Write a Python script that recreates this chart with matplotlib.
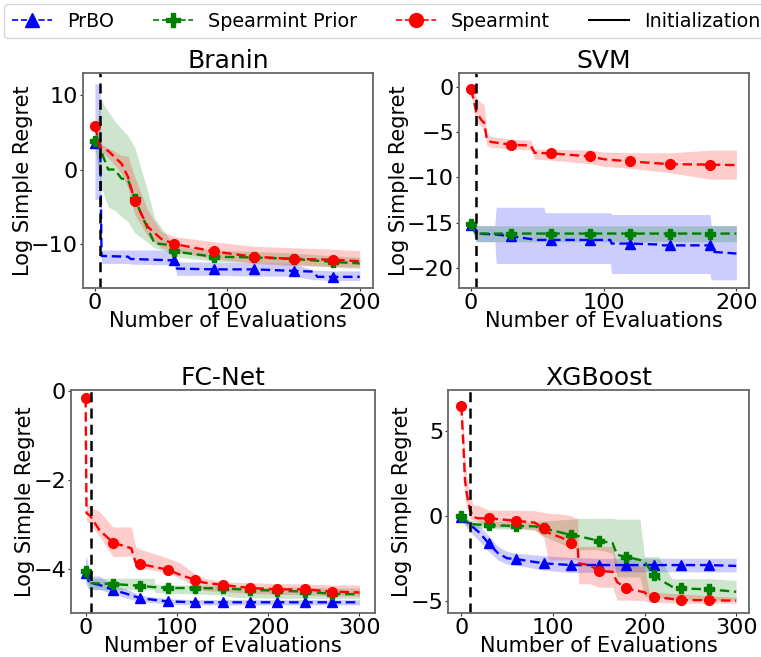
import numpy as np
import matplotlib
matplotlib.use("Agg")
import matplotlib.pyplot as plt
from matplotlib.lines import Line2D

# ---------------- data ----------------
# Branin
branin_init = 4
branin_prbo_x = [0, 4, 5, 25, 27, 60, 62, 90, 120, 150, 165, 168, 180, 200]
branin_prbo_y = [3.6, 3.4, -11.6, -11.7, -12.0, -12.2, -13.3, -13.4, -13.4, -13.6, -13.7, -14.4, -14.4, -14.4]
branin_prbo_hi = [11.5, 11.5, -10.8, -10.8, -10.8, -10.8, -12.4, -12.4, -12.5, -12.6, -13.5, -13.5, -13.6, -13.6]
branin_prbo_lo = [-4.0, -4.0, -12.6, -12.6, -12.7, -12.8, -14.2, -14.2, -14.3, -14.3, -14.8, -14.8, -14.9, -14.9]

branin_prior_x = [0, 4, 10, 15, 20, 25, 30, 40, 45, 55, 60, 90, 120, 150, 180, 200]
branin_prior_y = [3.8, 2.8, 0.0, 0.0, -1.2, -1.4, -3.9, -8.0, -9.9, -10.1, -11.0, -11.7, -11.8, -12.0, -12.4, -12.6]
branin_prior_hi = [4.5, 9.5, 7.8, 6.5, 5.5, 4.5, 3.0, -3.0, -6.5, -9.0, -10.3, -10.8, -11.0, -11.2, -11.6, -11.8]
branin_prior_lo = [3.0, -2.0, -5.0, -5.5, -6.3, -7.0, -8.5, -9.8, -10.5, -11.0, -11.7, -12.3, -12.5, -12.7, -13.1, -13.3]

branin_spear_x = [0, 4, 10, 20, 25, 30, 40, 50, 60, 90, 120, 150, 180, 200]
branin_spear_y = [5.8, 3.0, 2.5, 0.8, -1.0, -4.2, -7.7, -9.3, -10.0, -11.0, -11.7, -12.0, -12.1, -12.3]
branin_spear_hi = [6.3, 3.5, 2.9, 1.9, 1.8, -1.0, -5.5, -8.3, -9.0, -9.7, -10.3, -10.5, -10.7, -10.9]
branin_spear_lo = [5.3, 2.5, 1.6, -0.5, -2.5, -6.0, -9.0, -10.5, -11.0, -12.0, -12.6, -12.9, -13.0, -13.1]

# SVM
svm_init = 4
svm_prbo_x = [0, 4, 18, 19, 30, 35, 50, 55, 56, 60, 90, 105, 106, 120, 140, 145, 150, 180, 181, 200]
svm_prbo_y = [-15.3, -16.2, -16.3, -16.3, -16.5, -16.6, -16.9, -16.9, -16.9, -16.9, -16.9, -16.9, -17.3, -17.3, -17.4, -17.5, -17.5, -17.5, -18.2, -18.4]
svm_prbo_hi = [-15.1, -15.3, -15.3, -13.3, -13.3, -13.3, -13.3, -13.3, -13.9, -13.9, -13.9, -13.9, -14.1, -14.1, -14.1, -14.1, -14.1, -14.1, -15.3, -15.3]
svm_prbo_lo = [-15.5, -17.1, -17.1, -19.5, -19.5, -19.5, -19.5, -19.5, -19.5, -19.5, -19.5, -19.5, -20.6, -20.6, -20.6, -20.6, -20.6, -20.6, -21.3, -21.3]

svm_prior_x = [0, 4, 30, 60, 90, 120, 150, 180, 200]
svm_prior_y = [-15.15, -16.2, -16.2, -16.2, -16.2, -16.2, -16.2, -16.2, -16.2]
svm_prior_hi = [-15.0, -15.35, -15.35, -15.35, -15.35, -15.35, -15.35, -15.35, -15.35]
svm_prior_lo = [-15.3, -17.1, -17.1, -17.1, -17.1, -17.1, -17.1, -17.1, -17.1]

svm_spear_x = [0, 2, 4, 8, 10, 12, 15, 30, 45, 48, 60, 90, 100, 120, 150, 180, 200]
svm_spear_y = [-0.3, -1.5, -2.8, -3.7, -4.0, -5.8, -6.1, -6.4, -6.5, -7.3, -7.35, -7.7, -8.0, -8.25, -8.55, -8.6, -8.65]
svm_spear_hi = [0.0, -0.5, -1.2, -1.8, -2.0, -5.2, -5.5, -5.8, -5.9, -6.9, -6.9, -7.0, -7.2, -7.3, -7.3, -7.0, -7.0]
svm_spear_lo = [-0.6, -2.5, -4.0, -4.4, -5.0, -6.5, -6.7, -6.9, -7.0, -8.0, -8.1, -8.5, -8.8, -9.0, -9.5, -10.2, -10.2]

# FC-Net
fc_init = 6
fc_prbo_x = [0, 2, 4, 15, 30, 45, 60, 90, 120, 150, 180, 210, 240, 270, 300]
fc_prbo_y = [-4.09, -4.2, -4.3, -4.35, -4.46, -4.55, -4.65, -4.72, -4.74, -4.74, -4.74, -4.74, -4.74, -4.74, -4.74]
fc_prbo_hi = [-3.7, -3.8, -4.15, -4.15, -4.35, -4.45, -4.58, -4.66, -4.68, -4.68, -4.68, -4.68, -4.68, -4.68, -4.68]
fc_prbo_lo = [-4.3, -4.4, -4.45, -4.45, -4.55, -4.65, -4.72, -4.78, -4.8, -4.8, -4.8, -4.8, -4.8, -4.8, -4.8]

fc_prior_x = [0, 4, 30, 60, 75, 76, 90, 120, 150, 160, 180, 210, 240, 270, 300]
fc_prior_y = [-4.03, -4.31, -4.33, -4.37, -4.4, -4.4, -4.42, -4.42, -4.43, -4.44, -4.46, -4.48, -4.5, -4.55, -4.56]
fc_prior_hi = [-3.95, -4.2, -4.2, -4.2, -4.2, -4.33, -4.35, -4.35, -4.36, -4.38, -4.39, -4.4, -4.4, -4.42, -4.42]
fc_prior_lo = [-4.1, -4.46, -4.46, -4.46, -4.46, -4.52, -4.54, -4.55, -4.58, -4.62, -4.64, -4.65, -4.65, -4.66, -4.66]

fc_spear_x = [0, 1, 5, 15, 30, 50, 55, 60, 90, 103, 120, 130, 150, 180, 210, 240, 270, 300]
fc_spear_y = [-0.16, -2.74, -2.8, -3.12, -3.4, -3.53, -3.86, -3.88, -4.01, -4.12, -4.24, -4.3, -4.35, -4.42, -4.45, -4.45, -4.5, -4.52]
fc_spear_hi = [-0.1, -2.55, -2.6, -2.7, -3.05, -3.05, -3.5, -3.55, -3.75, -3.85, -4.1, -4.2, -4.28, -4.3, -4.32, -4.33, -4.35, -4.35]
fc_spear_lo = [-0.2, -2.9, -3.0, -3.25, -3.72, -3.7, -3.95, -3.98, -4.07, -4.2, -4.38, -4.48, -4.5, -4.54, -4.56, -4.57, -4.6, -4.6]

# XGBoost
xgb_init = 9
xgb_prbo_x = [0, 9, 20, 30, 40, 50, 60, 90, 120, 150, 180, 210, 240, 270, 300]
xgb_prbo_y = [-0.1, -0.5, -1.0, -1.63, -2.2, -2.5, -2.55, -2.8, -2.9, -2.9, -2.9, -2.9, -2.9, -2.9, -2.95]
xgb_prbo_hi = [0.1, -0.3, -0.6, -1.2, -1.8, -2.1, -2.2, -2.35, -2.45, -2.5, -2.5, -2.5, -2.5, -2.5, -2.5]
xgb_prbo_lo = [-0.3, -0.9, -1.5, -2.1, -2.6, -2.85, -2.9, -3.2, -3.35, -3.3, -3.3, -3.3, -3.3, -3.3, -3.3]

xgb_prior_x = [0, 9, 30, 60, 80, 90, 120, 128, 150, 165, 170, 180, 195, 200, 210, 215, 230, 240, 270, 300]
xgb_prior_y = [-0.02, -0.49, -0.55, -0.6, -0.62, -0.74, -1.13, -1.2, -1.47, -1.6, -2.3, -2.41, -2.6, -2.7, -3.49, -3.7, -4.17, -4.27, -4.33, -4.47]
xgb_prior_hi = [0.2, -0.25, -0.3, -0.35, -0.35, -0.3, -0.2, -0.15, -0.15, -0.15, -0.2, -0.2, -0.2, -2.4, -2.4, -2.4, -3.7, -3.7, -3.7, -3.8]
xgb_prior_lo = [-0.2, -0.7, -0.75, -0.8, -0.85, -1.2, -1.9, -2.0, -2.0, -2.2, -3.6, -3.6, -3.6, -4.76, -4.76, -4.8, -4.96, -4.96, -4.96, -4.96]

xgb_spear_x = [0, 2, 4, 6, 9, 13, 18, 30, 60, 80, 90, 95, 110, 120, 127, 128, 140, 150, 165, 170, 180, 200, 205, 210, 240, 270, 300]
xgb_spear_y = [6.45, 4.5, 2.1, 1.3, 0.43, -0.06, -0.15, -0.15, -0.3, -0.4, -0.74, -1.0, -1.3, -1.63, -1.7, -2.8, -2.9, -3.24, -3.3, -3.9, -4.27, -4.5, -4.75, -4.76, -4.96, -4.96, -5.0]
xgb_spear_hi = [6.9, 5.5, 3.5, 2.3, 1.5, 0.63, 0.63, 0.33, 0.33, 0.3, 0.2, 0.15, 0.1, 0.0, -0.2, -1.8, -1.8, -1.8, -1.8, -2.8, -2.8, -3.0, -4.5, -4.5, -4.6, -4.7, -4.8]
xgb_spear_lo = [6.0, 3.5, 1.0, 0.5, -0.2, -0.25, -0.3, -0.65, -0.7, -0.8, -1.3, -2.6, -2.6, -2.6, -2.6, -4.0, -4.0, -4.2, -4.2, -4.96, -4.96, -5.0, -5.1, -5.1, -5.15, -5.15, -5.15]

titles = ["Branin", "SVM", "FC-Net", "XGBoost"]
method_labels = ["PrBO", "Spearmint Prior", "Spearmint"]
method_colors = ["blue", "green", "red"]
method_markers = ["^", "P", "o"]
xlabel = "Number of Evaluations"
ylabel = "Log Simple Regret"

panels = [
    dict(init=branin_init,
         series=[(branin_prbo_x, branin_prbo_y, branin_prbo_lo, branin_prbo_hi),
                 (branin_prior_x, branin_prior_y, branin_prior_lo, branin_prior_hi),
                 (branin_spear_x, branin_spear_y, branin_spear_lo, branin_spear_hi)],
         xlim=(-9, 210), ylim=(-15.9, 12.95), xticks=[0, 100, 200], yticks=[-10, 0, 10]),
    dict(init=svm_init,
         series=[(svm_prbo_x, svm_prbo_y, svm_prbo_lo, svm_prbo_hi),
                 (svm_prior_x, svm_prior_y, svm_prior_lo, svm_prior_hi),
                 (svm_spear_x, svm_spear_y, svm_spear_lo, svm_spear_hi)],
         xlim=(-9, 209.5), ylim=(-22.2, 1.5), xticks=[0, 100, 200], yticks=[-20, -15, -10, -5, 0]),
    dict(init=fc_init,
         series=[(fc_prbo_x, fc_prbo_y, fc_prbo_lo, fc_prbo_hi),
                 (fc_prior_x, fc_prior_y, fc_prior_lo, fc_prior_hi),
                 (fc_spear_x, fc_spear_y, fc_spear_lo, fc_spear_hi)],
         xlim=(-16, 317), ylim=(-4.98, 0.02), xticks=[0, 100, 200, 300], yticks=[-4, -2, 0]),
    dict(init=xgb_init,
         series=[(xgb_prbo_x, xgb_prbo_y, xgb_prbo_lo, xgb_prbo_hi),
                 (xgb_prior_x, xgb_prior_y, xgb_prior_lo, xgb_prior_hi),
                 (xgb_spear_x, xgb_spear_y, xgb_spear_lo, xgb_spear_hi)],
         xlim=(-14.5, 314), ylim=(-5.72, 7.4), xticks=[0, 100, 200, 300], yticks=[-5, 0, 5]),
]

# ---------------- figure ----------------
W, H = 761, 657
fig = plt.figure(figsize=(W / 100, H / 100), dpi=100)

# axes boxes in pixels: left, right, top, bottom
boxes = [(83, 373, 73, 288), (459, 749, 73, 288), (71, 375, 390, 613), (448, 749, 390, 613)]

for p, title, (l, r, t, b) in zip(panels, titles, boxes):
    ax = fig.add_axes([l / W, 1 - b / H, (r - l) / W, (b - t) / H])
    for (x, y, lo, hi), c, m in zip(p["series"], method_colors, method_markers):
        x = np.asarray(x, float)
        ax.fill_between(x, lo, hi, color=c, alpha=0.2, linewidth=0)
        me = [i for i, v in enumerate(x) if v % 30 == 0 and v < x.max()]
        ax.plot(x, y, linestyle="--", color=c, lw=1.7, marker=m, markersize=7,
                markevery=me, dashes=(4, 2))
    ax.axvline(p["init"], color="black", linestyle="--", lw=1.8, dashes=(4, 2.5))
    ax.set_xlim(*p["xlim"])
    ax.set_ylim(*p["ylim"])
    ax.set_xticks(p["xticks"])
    ax.set_yticks(p["yticks"])
    ax.tick_params(labelsize=16, length=2.5, pad=1, color="0.2")
    ax.set_title(title, fontsize=18, pad=1.5)
    ax.set_xlabel(xlabel, fontsize=15, labelpad=-1)
    ax.set_ylabel(ylabel, fontsize=15, labelpad=-1.5)
    for s in ax.spines.values():
        s.set_color("0.4")
        s.set_linewidth(1.3)

handles = [Line2D([], [], color=c, linestyle="--", marker=m, markersize=10, lw=1.2)
           for c, m in zip(method_colors, method_markers)]
handles.append(Line2D([], [], color="black", lw=1.5))
labels = method_labels + ["Initialization"]
fig.legend(handles, labels, loc="upper left", bbox_to_anchor=(4 / W, 1 - 4 / H), ncol=4,
           fontsize=13.8, handlelength=2.1, columnspacing=2.0, frameon=True,
           borderaxespad=0)

fig.savefig("out.png", dpi=100)
